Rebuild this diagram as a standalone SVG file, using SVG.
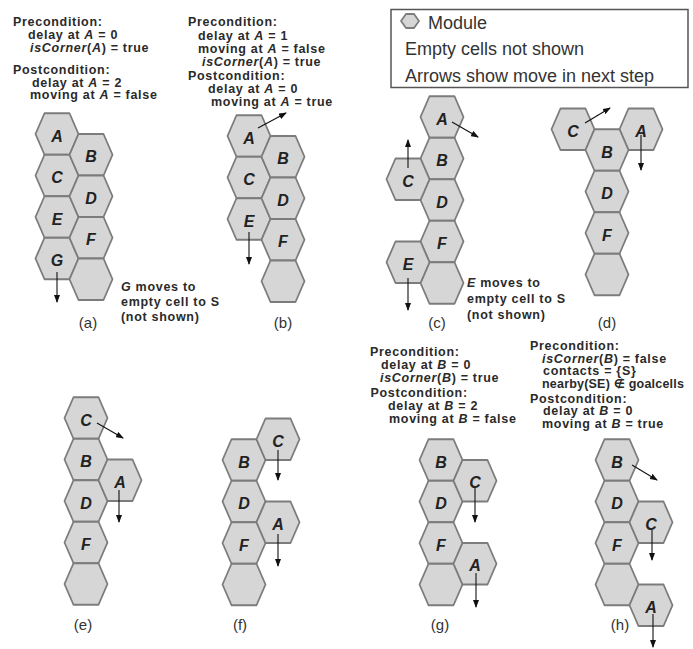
<svg xmlns="http://www.w3.org/2000/svg" xmlns:xlink="http://www.w3.org/1999/xlink" width="693" height="649" viewBox="0 0 693 649">
<style>
.hex{fill:#d6d6d6;stroke:#7c7c7c;stroke-width:1.8;stroke-linejoin:round}
.hl{font-family:"Liberation Sans","DejaVu Sans",sans-serif;font-size:16px;font-weight:bold;font-style:italic;fill:#222;text-anchor:middle}
.t{font-family:"Liberation Sans","DejaVu Sans",sans-serif;font-size:12.5px;font-weight:bold;letter-spacing:0.7px;fill:#2a2a2a}
.i{font-style:italic}
.lbl{font-family:"Liberation Sans","DejaVu Sans",sans-serif;font-size:15px;fill:#333;text-anchor:middle}
.leg{font-family:"Liberation Sans","DejaVu Sans",sans-serif;font-size:18px;fill:#333}
.arr{stroke:#111;stroke-width:1.1;fill:none;marker-end:url(#ah)}
</style>
<defs>
<polygon id="hx" class="hex" points="-21.5,0 -12.5,-20.75 12.5,-20.75 21.5,0 12.5,20.75 -12.5,20.75"/>
<marker id="ah" markerWidth="8" markerHeight="6" refX="7" refY="3" orient="auto" markerUnits="userSpaceOnUse"><path d="M0,0 L8,3 L0,6 Z" fill="#111"/></marker>
</defs>
<rect width="693" height="649" fill="#fff"/>

<!-- Legend -->
<g id="legend">
<rect x="391" y="9.5" width="297" height="78" fill="none" stroke="#555" stroke-width="1.5"/>
<polygon class="hex" stroke-width="1.2" points="401,21 406,14 414,14 419,21 414,28 406,28"/>
<text class="leg" x="428" y="29">Module</text>
<text class="leg" x="405" y="55">Empty cells not shown</text>
<text class="leg" x="405" y="82">Arrows show move in next step</text>
</g>

<!-- Panel a -->
<g id="panel-a">
<text class="t" x="13" y="25.5">Precondition:</text>
<text class="t" x="28" y="38.5">delay at <tspan class="i">A</tspan> = 0</text>
<text class="t" x="30" y="51.5"><tspan class="i">isCorner</tspan>(<tspan class="i">A</tspan>) = true</text>
<text class="t" x="13" y="74">Postcondition:</text>
<text class="t" x="32" y="86.5">delay at <tspan class="i">A</tspan> = 2</text>
<text class="t" x="30" y="99">moving at <tspan class="i">A</tspan> = false</text>
<g id="a-A"><use xlink:href="#hx" x="57" y="134"/><text class="hl" x="57" y="141.5">A</text></g>
<g id="a-C"><use xlink:href="#hx" x="57" y="175.5"/><text class="hl" x="57" y="183">C</text></g>
<g id="a-E"><use xlink:href="#hx" x="57" y="217"/><text class="hl" x="57" y="224.5">E</text></g>
<g id="a-G"><use xlink:href="#hx" x="57" y="258.5"/><text class="hl" x="57" y="266">G</text></g>
<g id="a-B"><use xlink:href="#hx" x="91" y="154.75"/><text class="hl" x="91" y="162.25">B</text></g>
<g id="a-D"><use xlink:href="#hx" x="91" y="196.25"/><text class="hl" x="91" y="203.75">D</text></g>
<g id="a-F"><use xlink:href="#hx" x="91" y="237.75"/><text class="hl" x="91" y="245.25">F</text></g>
<g id="a-empty"><use xlink:href="#hx" x="91" y="279.25"/></g>
<text class="t" x="121" y="291"><tspan class="i">G</tspan> moves to</text>
<text class="t" x="121" y="306">empty cell to S</text>
<text class="t" x="121" y="321">(not shown)</text>
<text class="lbl" x="88" y="328">(a)</text>
</g>

<!-- Panel b -->
<g id="panel-b">
<text class="t" x="188" y="26">Precondition:</text>
<text class="t" x="198" y="39.5">delay at <tspan class="i">A</tspan> = 1</text>
<text class="t" x="198" y="53">moving at <tspan class="i">A</tspan> = false</text>
<text class="t" x="202" y="66"><tspan class="i">isCorner</tspan>(<tspan class="i">A</tspan>) = true</text>
<text class="t" x="188" y="79.5">Postcondition:</text>
<text class="t" x="208" y="93">delay at <tspan class="i">A</tspan> = 0</text>
<text class="t" x="211" y="106">moving at <tspan class="i">A</tspan> = true</text>
<g id="b-A"><use xlink:href="#hx" x="249" y="136"/><text class="hl" x="249" y="143.5">A</text></g>
<g id="b-C"><use xlink:href="#hx" x="249" y="177.5"/><text class="hl" x="249" y="185">C</text></g>
<g id="b-E"><use xlink:href="#hx" x="249" y="219"/><text class="hl" x="249" y="226.5">E</text></g>
<g id="b-B"><use xlink:href="#hx" x="283" y="156.75"/><text class="hl" x="283" y="164.25">B</text></g>
<g id="b-D"><use xlink:href="#hx" x="283" y="198.25"/><text class="hl" x="283" y="205.75">D</text></g>
<g id="b-F"><use xlink:href="#hx" x="283" y="239.75"/><text class="hl" x="283" y="247.25">F</text></g>
<g id="b-empty"><use xlink:href="#hx" x="283" y="281.25"/></g>
<text class="lbl" x="283" y="328">(b)</text>
</g>

<!-- Panel c -->
<g id="panel-c">
<g id="c-A"><use xlink:href="#hx" x="442" y="117"/><text class="hl" x="442" y="124.5">A</text></g>
<g id="c-B"><use xlink:href="#hx" x="442" y="158.5"/><text class="hl" x="442" y="166">B</text></g>
<g id="c-D"><use xlink:href="#hx" x="442" y="200"/><text class="hl" x="442" y="207.5">D</text></g>
<g id="c-F"><use xlink:href="#hx" x="442" y="241.5"/><text class="hl" x="442" y="249">F</text></g>
<g id="c-empty"><use xlink:href="#hx" x="442" y="283"/></g>
<g id="c-C"><use xlink:href="#hx" x="408" y="179.25"/><text class="hl" x="408" y="186.75">C</text></g>
<g id="c-E"><use xlink:href="#hx" x="408" y="262.25"/><text class="hl" x="408" y="269.75">E</text></g>
<text class="t" x="467" y="287"><tspan class="i">E</tspan> moves to</text>
<text class="t" x="467" y="303">empty cell to S</text>
<text class="t" x="467" y="319">(not shown)</text>
<text class="lbl" x="437" y="328">(c)</text>
</g>

<!-- Panel d -->
<g id="panel-d">
<g id="d-C"><use xlink:href="#hx" x="573" y="129.25"/><text class="hl" x="573" y="136.75">C</text></g>
<g id="d-A"><use xlink:href="#hx" x="641" y="129.25"/><text class="hl" x="641" y="136.75">A</text></g>
<g id="d-B"><use xlink:href="#hx" x="607" y="150"/><text class="hl" x="607" y="157.5">B</text></g>
<g id="d-D"><use xlink:href="#hx" x="607" y="191.5"/><text class="hl" x="607" y="199">D</text></g>
<g id="d-F"><use xlink:href="#hx" x="607" y="233"/><text class="hl" x="607" y="240.5">F</text></g>
<g id="d-empty"><use xlink:href="#hx" x="607" y="274.5"/></g>
<text class="lbl" x="607" y="328">(d)</text>
</g>

<!-- Panel e -->
<g id="panel-e">
<g id="e-C"><use xlink:href="#hx" x="86" y="418"/><text class="hl" x="86" y="425.5">C</text></g>
<g id="e-B"><use xlink:href="#hx" x="86" y="459.5"/><text class="hl" x="86" y="467">B</text></g>
<g id="e-D"><use xlink:href="#hx" x="86" y="501"/><text class="hl" x="86" y="508.5">D</text></g>
<g id="e-F"><use xlink:href="#hx" x="86" y="542.5"/><text class="hl" x="86" y="550">F</text></g>
<g id="e-empty"><use xlink:href="#hx" x="86" y="584"/></g>
<g id="e-A"><use xlink:href="#hx" x="120" y="480.25"/><text class="hl" x="120" y="487.75">A</text></g>
<text class="lbl" x="83" y="630">(e)</text>
</g>

<!-- Panel f -->
<g id="panel-f">
<g id="f-B"><use xlink:href="#hx" x="244" y="460"/><text class="hl" x="244" y="467.5">B</text></g>
<g id="f-D"><use xlink:href="#hx" x="244" y="501.5"/><text class="hl" x="244" y="509">D</text></g>
<g id="f-F"><use xlink:href="#hx" x="244" y="543"/><text class="hl" x="244" y="550.5">F</text></g>
<g id="f-empty"><use xlink:href="#hx" x="244" y="584.5"/></g>
<g id="f-C"><use xlink:href="#hx" x="278" y="439.25"/><text class="hl" x="278" y="446.75">C</text></g>
<g id="f-A"><use xlink:href="#hx" x="278" y="522.25"/><text class="hl" x="278" y="529.75">A</text></g>
<text class="lbl" x="240" y="630">(f)</text>
</g>

<!-- Panel g -->
<g id="panel-g">
<text class="t" x="370" y="356">Precondition:</text>
<text class="t" x="381" y="369">delay at <tspan class="i">B</tspan> = 0</text>
<text class="t" x="380" y="381.5"><tspan class="i">isCorner</tspan>(<tspan class="i">B</tspan>) = true</text>
<text class="t" x="370.5" y="397">Postcondition:</text>
<text class="t" x="388" y="409.5">delay at <tspan class="i">B</tspan> = 2</text>
<text class="t" x="389" y="423">moving at <tspan class="i">B</tspan> = false</text>
<g id="g-B"><use xlink:href="#hx" x="441" y="460"/><text class="hl" x="441" y="467.5">B</text></g>
<g id="g-D"><use xlink:href="#hx" x="441" y="501.5"/><text class="hl" x="441" y="509">D</text></g>
<g id="g-F"><use xlink:href="#hx" x="441" y="543"/><text class="hl" x="441" y="550.5">F</text></g>
<g id="g-empty"><use xlink:href="#hx" x="441" y="584.5"/></g>
<g id="g-C"><use xlink:href="#hx" x="475" y="480.75"/><text class="hl" x="475" y="488.25">C</text></g>
<g id="g-A"><use xlink:href="#hx" x="475" y="563.75"/><text class="hl" x="475" y="571.25">A</text></g>
<text class="lbl" x="440" y="630">(g)</text>
</g>

<!-- Panel h -->
<g id="panel-h">
<text class="t" x="530" y="350">Precondition:</text>
<text class="t" x="542" y="362.5"><tspan class="i">isCorner</tspan>(<tspan class="i">B</tspan>) = false</text>
<text class="t" x="543" y="375">contacts = {S}</text>
<text class="t" x="542" y="387.5" style="letter-spacing:0.2px">nearby(SE) ∉ goalcells</text>
<text class="t" x="530" y="402.5">Postcondition:</text>
<text class="t" x="543" y="415">delay at <tspan class="i">B</tspan> = 0</text>
<text class="t" x="542" y="427.5">moving at <tspan class="i">B</tspan> = true</text>
<g id="h-B"><use xlink:href="#hx" x="617" y="460"/><text class="hl" x="617" y="467.5">B</text></g>
<g id="h-D"><use xlink:href="#hx" x="617" y="501.5"/><text class="hl" x="617" y="509">D</text></g>
<g id="h-F"><use xlink:href="#hx" x="617" y="543"/><text class="hl" x="617" y="550.5">F</text></g>
<g id="h-empty"><use xlink:href="#hx" x="617" y="584.5"/></g>
<g id="h-C"><use xlink:href="#hx" x="651" y="522.25"/><text class="hl" x="651" y="529.75">C</text></g>
<g id="h-A"><use xlink:href="#hx" x="651" y="605.25"/><text class="hl" x="651" y="612.75">A</text></g>
<text class="lbl" x="620" y="630">(h)</text>
</g>

<!-- Connectors (move arrows) -->
<g id="arrows">
<line class="arr" x1="57" y1="272" x2="57" y2="302"/>
<line class="arr" x1="258" y1="128" x2="286" y2="113"/>
<line class="arr" x1="249" y1="232" x2="249" y2="264"/>
<line class="arr" x1="452" y1="122" x2="478" y2="137"/>
<line class="arr" x1="408" y1="168" x2="408" y2="140"/>
<line class="arr" x1="408" y1="278" x2="408" y2="310"/>
<line class="arr" x1="585" y1="123" x2="610" y2="108"/>
<line class="arr" x1="641" y1="135" x2="641" y2="170"/>
<line class="arr" x1="97" y1="423" x2="123" y2="438"/>
<line class="arr" x1="119" y1="490" x2="119" y2="522"/>
<line class="arr" x1="278" y1="450" x2="278" y2="480"/>
<line class="arr" x1="278" y1="534" x2="278" y2="566"/>
<line class="arr" x1="475" y1="488" x2="475" y2="522"/>
<line class="arr" x1="476" y1="573" x2="476" y2="607"/>
<line class="arr" x1="632" y1="465" x2="657" y2="480"/>
<line class="arr" x1="652" y1="530" x2="652" y2="560"/>
<line class="arr" x1="653" y1="614" x2="653" y2="647"/>
</g>
</svg>
